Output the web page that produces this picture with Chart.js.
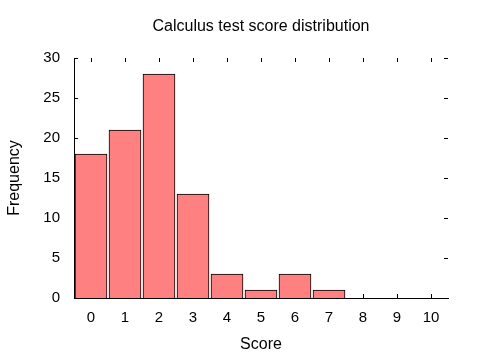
<!DOCTYPE html>
<html>
<head>
<meta charset="utf-8">
<script src="https://cdn.jsdelivr.net/npm/chart.js@4"></script>
<style>
  html, body { margin: 0; padding: 0; background: #fff; }
  #wrap { width: 480px; height: 360px; }
</style>
</head>
<body>
<div id="wrap"><canvas id="chart" width="480" height="360"></canvas></div>
<script>
const scores = ["0", "1", "2", "3", "4", "5", "6", "7", "8", "9", "10"];
const frequency = [18, 21, 28, 13, 3, 1, 3, 1, 0, 0, 0];
const yTicks = [0, 5, 10, 15, 20, 25, 30];

const FONT = "'Liberation Sans', Arial, sans-serif";
const TICK_LEN = 4;

// gnuplot style ticks: inward, mirrored on top and right
const mirrorTicks = {
  id: "mirrorTicks",
  beforeDatasetsDraw(chart) {
    const { ctx, chartArea: a, scales: { x, y } } = chart;
    ctx.save();
    ctx.strokeStyle = "#000";
    ctx.lineWidth = 1;
    ctx.beginPath();
    scores.forEach((s, i) => {
      const px = Math.round(x.getPixelForValue(i)) + 0.5;
      ctx.moveTo(px, a.bottom);
      ctx.lineTo(px, a.bottom - TICK_LEN);
      ctx.moveTo(px, a.top);
      ctx.lineTo(px, a.top + TICK_LEN);
    });
    yTicks.forEach(v => {
      const py = Math.round(y.getPixelForValue(v)) + 0.5;
      ctx.moveTo(a.left, py);
      ctx.lineTo(a.left + TICK_LEN, py);
      ctx.moveTo(a.right, py);
      ctx.lineTo(a.right - TICK_LEN, py);
    });
    ctx.stroke();
    ctx.restore();
  }
};

new Chart(document.getElementById("chart"), {
  type: "bar",
  data: {
    labels: scores,
    datasets: [{
      label: "Frequency",
      data: frequency,
      backgroundColor: "#ff8080",
      borderColor: "#000",
      borderWidth: 1,
      barThickness: 32
    }]
  },
  options: {
    responsive: false,
    animation: false,
    layout: { padding: { left: 0, right: 32, top: 0, bottom: 0 } },
    plugins: {
      legend: { display: false },
      tooltip: { enabled: false },
      title: {
        display: true,
        fullSize: false,
        text: "Calculus test score distribution",
        color: "#000",
        font: { family: FONT, size: 16, weight: "normal", lineHeight: 1.2 },
        padding: { top: 17.4, bottom: 21.4 }
      }
    },
    scales: {
      x: {
        grid: { display: false, drawTicks: false },
        border: { display: true, color: "#000", width: 1 },
        ticks: {
          color: "#000",
          padding: 11,
          maxRotation: 0,
          font: { family: FONT, size: 15 }
        },
        title: {
          display: true,
          text: "Score",
          color: "#000",
          font: { family: FONT, size: 16, lineHeight: 1.2 },
          padding: { top: 0, bottom: 5.4 }
        },
        afterFit(scale) { scale.height = 62; }
      },
      y: {
        min: 0,
        max: 30,
        grid: { display: false, drawTicks: false },
        border: { display: true, color: "#000", width: 1 },
        ticks: {
          stepSize: 5,
          color: "#000",
          padding: 14,
          font: { family: FONT, size: 15 }
        },
        title: {
          display: true,
          text: "Frequency",
          color: "#000",
          font: { family: FONT, size: 16, lineHeight: 1.2 },
          padding: { top: 4.7, bottom: 0 }
        },
        afterFit(scale) { scale.width = 74; }
      }
    }
  },
  plugins: [mirrorTicks]
});
</script>
</body>
</html>
